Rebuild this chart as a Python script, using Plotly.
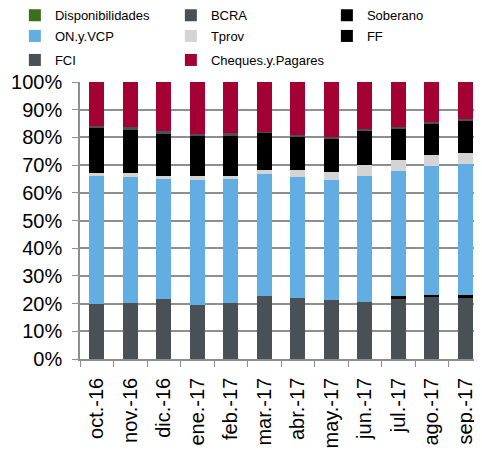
import plotly.graph_objects as go

meses = ["oct.-16", "nov.-16", "dic.-16", "ene.-17", "feb.-17", "mar.-17",
         "abr.-17", "may.-17", "jun.-17", "jul.-17", "ago.-17", "sep.-17"]

# participación (%) de cada instrumento, de abajo hacia arriba en la pila
fci = [20.0, 20.3, 21.5, 19.5, 20.3, 22.9, 21.9, 21.3, 20.6, 22.0, 22.4, 22.2]
ff = [0.0, 0.0, 0.0, 0.0, 0.0, 0.0, 0.0, 0.0, 0.0, 0.6, 0.7, 0.8]
on_vcp = [45.9, 45.5, 43.5, 45.1, 44.7, 44.0, 43.9, 43.5, 45.3, 45.4, 46.4, 47.3]
tprov = [1.2, 1.3, 1.2, 1.3, 1.2, 1.4, 2.3, 2.6, 4.0, 3.9, 4.0, 4.2]
soberano = [16.3, 15.4, 15.0, 14.7, 14.2, 13.3, 12.4, 12.2, 12.6, 11.3, 11.6, 11.6]
bcra = [0.6, 1.3, 1.2, 0.6, 1.2, 0.5, 0.4, 0.4, 0.4, 0.4, 0.3, 0.5]
disponibilidades = [0.0] * 12
cheques = [16.0, 16.2, 17.6, 18.8, 18.4, 17.9, 19.1, 20.0, 17.1, 16.4, 14.6, 13.4]

# (nombre, datos, color, fila de la leyenda, orden dentro de la fila)
SERIES = [
    ("FCI", fci, "#495157", "legend3", 1),
    ("FF", ff, "#000000", "legend2", 3),
    ("ON.y.VCP", on_vcp, "#62AEE3", "legend2", 1),
    ("Tprov", tprov, "#D4D4D4", "legend2", 2),
    ("Soberano", soberano, "#000000", "legend", 3),
    ("BCRA", bcra, "#495157", "legend", 2),
    ("Disponibilidades", disponibilidades, "#3F6E1A", "legend", 1),
    ("Cheques.y.Pagares", cheques, "#A50034", "legend3", 2),
]

fig = go.Figure()
for name, vals, color, leg, rank in SERIES:
    fig.add_trace(go.Bar(
        x=meses, y=vals, name=name, legend=leg, legendrank=rank,
        marker=dict(color=color, line=dict(width=0)),
    ))

# una leyenda por fila, como en el original (3 columnas)
def fila(y):
    return dict(
        orientation="h", x=-0.162, xanchor="left", y=y, yanchor="middle",
        entrywidth=111, entrywidthmode="pixels", traceorder="normal",
        font=dict(size=13), bgcolor="rgba(0,0,0,0)",
    )

fig.update_layout(
    width=474, height=442,
    barmode="stack", barnorm="percent", bargap=0.55,
    plot_bgcolor="white", paper_bgcolor="white",
    font=dict(family="Liberation Sans, Arial, sans-serif", color="#000000"),
    margin=dict(l=72, r=0, t=74, b=91, autoexpand=False),
    legend=fila(1.241),
    legend2=fila(1.1661),
    legend3=fila(1.0794),
)
fig.update_yaxes(
    range=[0, 100], dtick=10, ticksuffix="%",
    showgrid=True, gridcolor="#8E8E8E", gridwidth=1.5,
    showline=True, linecolor="#8E8E8E", linewidth=1.5,
    ticks="outside", ticklen=6, tickcolor="#8E8E8E",
    tickfont=dict(size=20), ticklabelstandoff=6,
    zeroline=False,
)
fig.update_xaxes(
    showline=True, linecolor="#8E8E8E", linewidth=1.5,
    ticks="outside", tickson="boundaries", ticklen=6, tickcolor="#8E8E8E",
    tickangle=-90, tickfont=dict(size=20), ticklabelstandoff=9,
)

fig.write_html("out.html")
